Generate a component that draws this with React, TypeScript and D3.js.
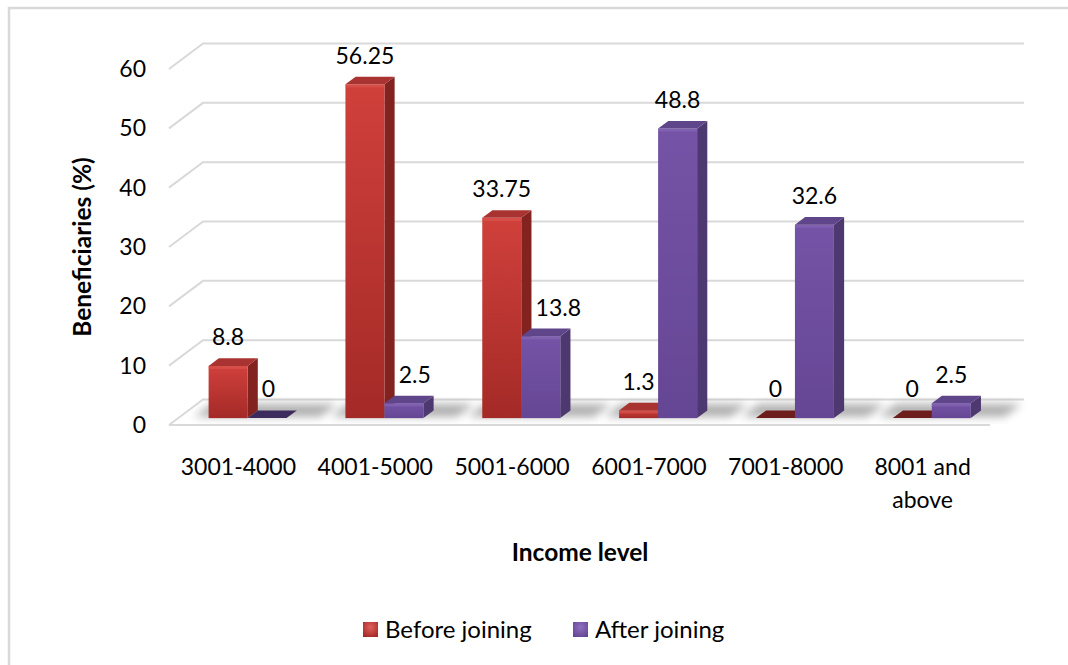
import React from 'react';
import * as d3 from 'd3';

// Income brackets and the share of beneficiaries (%) in each, before and after joining
const categories = ['3001-4000', '4001-5000', '5001-6000', '6001-7000', '7001-8000', '8001 and above'];
const categoryLines = [['3001-4000'], ['4001-5000'], ['5001-6000'], ['6001-7000'], ['7001-8000'], ['8001 and', 'above']];
const beforeJoining = [8.8, 56.25, 33.75, 1.3, 0, 0];
const afterJoining = [0, 2.5, 13.8, 48.8, 32.6, 2.5];
const seriesNames = ['Before joining', 'After joining'];
const yTicks = [0, 10, 20, 30, 40, 50, 60];

const W = 1068;
const H = 665;
const FONT = 'Lato, "Open Sans", sans-serif';
const FS = 23;

// oblique 3D frame: z = 0 is the front edge of the floor, z = 1 the back wall
const PLOT_LEFT = 169;
const PLOT_RIGHT = 990;
const FLOOR_FRONT_Y = 425;
const DEPTH_X = 34;
const DEPTH_Y = 25.5;
const BAR_Z0 = 0.27;
const BAR_Z1 = 0.57;

const y = d3.scaleLinear().domain([0, 60]).range([FLOOR_FRONT_Y, FLOOR_FRONT_Y - 356]);
const x = d3
  .scaleBand<string>()
  .domain(categories)
  .range([PLOT_LEFT + 1, PLOT_RIGHT + 1])
  .paddingInner(0.43)
  .paddingOuter(0.215);
const series = d3.scaleBand<number>().domain([0, 1]).range([0, x.bandwidth()]);

const proj = (xf: number, v: number, z: number): [number, number] => [xf + z * DEPTH_X, y(v) - z * DEPTH_Y];
const pts = (list: [number, number][]) => list.map((p) => p.join(',')).join(' ');

const palettes = [
  { frontTop: '#d0403b', frontBottom: '#a42a27', side: '#822320', top: '#a93330', flat: '#6d1d1b', light: '#e0605a' },
  { frontTop: '#7553a6', frontBottom: '#654694', side: '#4d386f', top: '#5f4589', flat: '#3c2b5c', light: '#8f70be' },
];

const labelWidth = (s: string) =>
  s.split('').reduce((acc, c) => acc + (c === '.' ? 0.25 : 0.58) * FS, 0);

function Bar({ ci, si, v }: { ci: number; si: number; v: number }) {
  const cat = categories[ci];
  const x0 = (x(cat) as number) + (series(si) as number);
  const x1 = x0 + series.bandwidth();
  const pal = palettes[si];
  const topFace = pts([proj(x0, v, BAR_Z0), proj(x1, v, BAR_Z0), proj(x1, v, BAR_Z1), proj(x0, v, BAR_Z1)]);
  if (v === 0) {
    return <polygon points={topFace} fill={pal.flat} />;
  }
  const [fx0, fy0] = proj(x0, v, BAR_Z0);
  const [fx1, fy1] = proj(x1, 0, BAR_Z0);
  const side = pts([proj(x1, v, BAR_Z0), proj(x1, v, BAR_Z1), proj(x1, 0, BAR_Z1), proj(x1, 0, BAR_Z0)]);
  const bevel = Math.min(3, (fy1 - fy0) / 2);
  return (
    <g>
      <polygon points={side} fill={pal.side} />
      <rect x={fx0} y={fy0} width={fx1 - fx0} height={fy1 - fy0} fill={`url(#front${si})`} />
      <rect x={fx0} y={fy0} width={fx1 - fx0} height={bevel} fill={pal.light} opacity={0.45} />
      <polygon points={topFace} fill={pal.top} />
    </g>
  );
}

export default function App() {
  const groups = categories.map((c, i) => ({ c, i, before: beforeJoining[i], after: afterJoining[i] }));

  const labels: { key: string; x: number; y: number; text: string }[] = [];
  groups.forEach((g) => {
    [g.before, g.after].forEach((v, si) => {
      const x0 = (x(g.c) as number) + (series(si) as number);
      const x1 = x0 + series.bandwidth();
      let cx = (x0 + x1) / 2 + BAR_Z0 * DEPTH_X;
      const text = String(v);
      const w = labelWidth(text);
      if (si === 1 && g.before > v) {
        // keep the label clear of the taller neighbouring column
        const neighbourRight = x0 + BAR_Z1 * DEPTH_X;
        if (cx - w / 2 < neighbourRight + 4) cx = neighbourRight + 4 + w / 2;
      }
      const top = proj(x0, v, BAR_Z1)[1];
      labels.push({ key: `${g.i}-${si}`, x: cx, y: top - 13, text });
    });
  });

  return (
    <svg width={W} height={H} style={{ position: 'absolute', left: 0, top: 0, background: '#fff' }} fontFamily={FONT}>
      <defs>
        {palettes.map((p, i) => (
          <linearGradient key={i} id={`front${i}`} x1="0" y1="0" x2="0" y2="1">
            <stop offset="0%" stopColor={p.frontTop} />
            <stop offset="100%" stopColor={p.frontBottom} />
          </linearGradient>
        ))}
        {palettes.map((p, i) => (
          <radialGradient key={i} id={`legend${i}`} cx="50%" cy="35%" r="70%">
            <stop offset="0%" stopColor={p.light} />
            <stop offset="100%" stopColor={p.frontBottom} />
          </radialGradient>
        ))}
        <filter id="soft" x="-50%" y="-50%" width="200%" height="200%">
          <feGaussianBlur stdDeviation="4" />
        </filter>
      </defs>

      <rect x={9} y={8} width={W + 20} height={H + 20} fill="none" stroke="#d9d9d9" strokeWidth={2.5} />

      {/* gridlines: back-wall line plus the diagonal along the side wall */}
      {yTicks.map((t) => {
        const a = proj(PLOT_LEFT, t, 0);
        const b = proj(PLOT_LEFT, t, 1);
        const c = proj(PLOT_RIGHT, t, 1);
        return <polyline key={t} points={pts([a, b, c])} fill="none" stroke="#d9d9d9" strokeWidth={2} />;
      })}
      <line
        x1={proj(PLOT_LEFT, 0, 0)[0]}
        y1={proj(PLOT_LEFT, 0, 0)[1]}
        x2={proj(PLOT_RIGHT, 0, 0)[0]}
        y2={proj(PLOT_RIGHT, 0, 0)[1]}
        stroke="#d9d9d9"
        strokeWidth={2}
      />

      {/* soft floor shadows under each column pair */}
      {groups.map((g) => {
        const gx0 = (x(g.c) as number) - 16;
        const gx1 = (x(g.c) as number) + x.bandwidth() + 32;
        const sh = pts([proj(gx0, 0, BAR_Z0 + 0.05), proj(gx1, 0, BAR_Z0 + 0.05), proj(gx1, 0, 0.82), proj(gx0, 0, 0.82)]);
        return <polygon key={g.c} points={sh} fill="#7a7a7a" opacity={0.6} filter="url(#soft)" />;
      })}

      {groups.map((g) => (
        <g key={g.c}>
          <Bar ci={g.i} si={0} v={g.before} />
          <Bar ci={g.i} si={1} v={g.after} />
        </g>
      ))}

      {labels.map((l) => (
        <text key={l.key} x={l.x} y={l.y} textAnchor="middle" fontSize={FS} fill="#000">
          {l.text}
        </text>
      ))}

      {yTicks.map((t) => (
        <text key={t} x={146} y={y(t) + 8} textAnchor="end" fontSize={FS} fill="#000">
          {t}
        </text>
      ))}

      {categoryLines.map((lines, i) => (
        <text key={i} x={(x(categories[i]) as number) + x.bandwidth() / 2} y={475} textAnchor="middle" fontSize={FS} fill="#000">
          {lines.map((ln, j) => (
            <tspan key={j} x={(x(categories[i]) as number) + x.bandwidth() / 2} dy={j === 0 ? 0 : 33}>
              {ln}
            </tspan>
          ))}
        </text>
      ))}

      <text transform="translate(91,247) rotate(-90)" textAnchor="middle" fontSize={24.5} fontWeight="bold" fill="#000">
        Beneficiaries (%)
      </text>
      <text x={580} y={561} textAnchor="middle" fontSize={24.5} fontWeight="bold" fill="#000">
        Income level
      </text>

      {seriesNames.map((name, i) => {
        const mx = i === 0 ? 363 : 573;
        return (
          <g key={name}>
            <rect x={mx} y={622} width={15} height={15} fill={`url(#legend${i})`} />
            <text x={mx + 22} y={638} fontSize={24} fill="#000">
              {name}
            </text>
          </g>
        );
      })}
    </svg>
  );
}
